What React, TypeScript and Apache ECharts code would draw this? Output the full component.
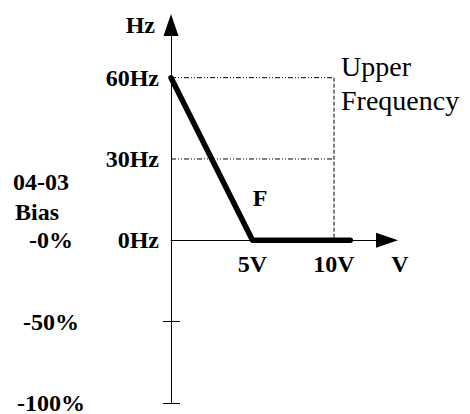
import React, { useEffect, useRef } from "react";
import * as echarts from "echarts";

// ---- data ----
const inputVoltage = [0, 5, 11];
const outputFrequency = [60, 0, 0];
const upperFreqVoltage = 10;
const referenceLevels = [60, 30];
const freqTickValues = [60, 30, 0];
const freqTickLabels = ["60Hz", "30Hz", "0Hz"];
const biasTickValues = [0, -30, -60];
const biasTickLabels = ["-0%", "-50%", "-100%"];
const biasMarkValues = [-30, -60];
const voltTickValues = [5, 10];
const voltTickLabels = ["5V", "10V"];

const SERIF = '"Liberation Serif", "DejaVu Serif", serif';

export default function App() {
  const ref = useRef<HTMLDivElement>(null);

  useEffect(() => {
    if (!ref.current) return;
    const chart = echarts.init(ref.current, undefined, { renderer: "svg" });

    const yMin = -60;
    const yMax = 79.4;
    const gridTop = 25.1;
    const gridBottom = 11.1;
    const plotH = 414 - gridTop - gridBottom;
    const zeroOffset = -(plotH * (0 - yMin)) / (yMax - yMin);

    const boldLabel = { fontFamily: SERIF, fontWeight: "bold" as const, fontSize: 24, color: "#000" };
    const dashDotDot = [5, 2, 1, 2, 1, 2];

    const series: any[] = referenceLevels.map((lvl, i) => ({
      type: "line",
      name: "ref" + i,
      data: [
        [0, lvl],
        [upperFreqVoltage, lvl],
      ],
      symbol: "none",
      silent: true,
      lineStyle: { color: "#000", width: 1, type: dashDotDot },
      z: 2,
    }));
    series.push({
      type: "line",
      name: "upperV",
      data: [
        [upperFreqVoltage, referenceLevels[0]],
        [upperFreqVoltage, 0],
      ],
      symbol: "none",
      silent: true,
      lineStyle: { color: "#000", width: 1, type: [4, 2] },
      z: 2,
    });
    series.push({
      type: "line",
      name: "F",
      data: inputVoltage.map((v, i) => [v, outputFrequency[i]]),
      symbol: "none",
      clip: false,
      silent: true,
      lineStyle: { color: "#000", width: 5.5, cap: "round", join: "round" },
      z: 5,
    });

    const txt = (text: string, x: number, y: number, bold: boolean, size: number, align: string) => ({
      type: "text",
      x,
      y,
      style: {
        text,
        fontFamily: SERIF,
        fontWeight: bold ? "bold" : "normal",
        fontSize: size,
        fill: "#000",
        textAlign: align,
        textVerticalAlign: "middle",
        align,
        verticalAlign: "middle",
      },
    });

    chart.setOption({
      animation: false,
      backgroundColor: "#fff",
      grid: { left: 171, right: 83, top: gridTop, bottom: gridBottom, containLabel: false, outerBoundsMode: "none" },
      xAxis: {
        type: "value",
        min: 0,
        max: 13.25,
        position: "bottom",
        offset: zeroOffset,
        splitLine: { show: false },
        axisTick: { show: false },
        axisLine: {
          show: true,
          onZero: false,
          symbol: ["none", "triangle"],
          symbolSize: [15, 22],
          lineStyle: { color: "#000", width: 1 },
        },
        axisLabel: {
          ...boldLabel,
          margin: 12,
          customValues: voltTickValues,
          formatter: (v: number) => {
            const i = voltTickValues.indexOf(v);
            return i >= 0 ? voltTickLabels[i] : "";
          },
        },
        name: "V",
        nameLocation: "end",
        nameGap: 13,
        nameTextStyle: { ...boldLabel, align: "center", verticalAlign: "top", padding: [12, 0, 0, 0] },
      },
      yAxis: [
        {
          type: "value",
          min: yMin,
          max: yMax,
          splitLine: { show: false },
          axisTick: { show: false },
          axisLine: {
            show: true,
            onZero: false,
            symbol: ["none", "triangle"],
            symbolSize: [15, 22],
            lineStyle: { color: "#000", width: 1 },
          },
          axisLabel: {
            ...boldLabel,
            margin: 12,
            customValues: freqTickValues,
            formatter: (v: number) => {
              const i = freqTickValues.indexOf(v);
              return i >= 0 ? freqTickLabels[i] : "";
            },
          },
          name: "Hz",
          nameLocation: "end",
          nameGap: 0,
          nameTextStyle: { ...boldLabel, align: "right", verticalAlign: "middle", padding: [0, 16, 5, 0] },
        },
        {
          type: "value",
          min: yMin,
          max: yMax,
          position: "left",
          splitLine: { show: false },
          axisLine: { show: false, onZero: false },
          axisTick: {
            show: true,
            length: 8,
            customValues: biasMarkValues,
            lineStyle: { color: "#000", width: 1 },
          },
          axisLabel: {
            ...boldLabel,
            margin: 120,
            align: "center",
            lineHeight: 18,
            padding: [0, 0, 5, 0],
            customValues: biasTickValues,
            formatter: (v: number) => {
              const i = biasTickValues.indexOf(v);
              return i >= 0 ? biasTickLabels[i] : "";
            },
          },
        },
        {
          type: "value",
          min: yMin,
          max: yMax,
          position: "left",
          splitLine: { show: false },
          axisLine: { show: false, onZero: false },
          axisTick: {
            show: true,
            inside: true,
            length: 9,
            customValues: biasMarkValues,
            lineStyle: { color: "#000", width: 1 },
          },
          axisLabel: { show: false },
        },
      ],
      graphic: [
        txt("04-03", 41, 182, true, 24, "center"),
        txt("Bias", 37, 212, true, 24, "center"),
        txt("F", 260, 198, true, 24, "center"),
        txt("Upper", 341, 66, false, 28, "left"),
        txt("Frequency", 341, 100, false, 28, "left"),
      ],
      series,
    });

    return () => chart.dispose();
  }, []);

  return (
    <div
      ref={ref}
      style={{ position: "fixed", left: 0, top: 0, width: 470, height: 414, background: "#fff" }}
    />
  );
}
